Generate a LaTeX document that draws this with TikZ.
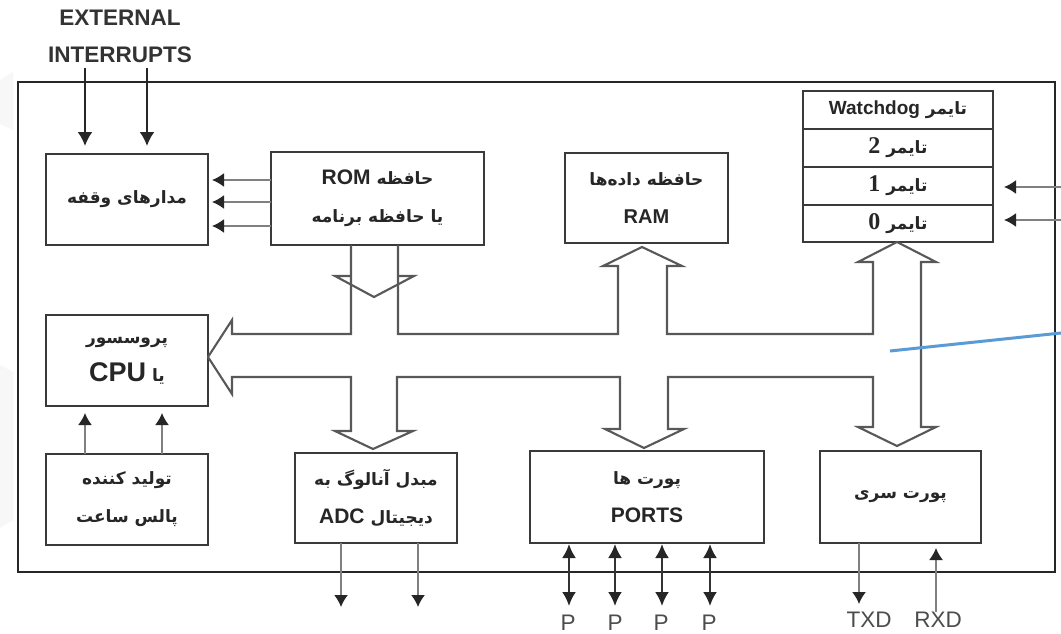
\documentclass[tikz,border=0pt]{standalone}
\usepackage{fontspec}
\setmainfont{Liberation Sans}
\newfontfamily\fa[Script=Arabic]{DejaVu Sans}
\newfontfamily\numf{Liberation Serif}
\TeXXeTstate=1
\usetikzlibrary{arrows.meta}
\newcommand{\FA}[1]{{\fa\bfseries\beginR #1\endR}}
\newcommand{\LAT}[2]{{\normalfont\bfseries\fontsize{#1}{#1}\selectfont #2}}
\newcommand{\FAL}[3]{{\fa\bfseries\beginR #2 \beginL\LAT{#1}{#3}\endL\endR}}
\newcommand{\FAN}[2]{{\fa\bfseries\beginR #1 \beginL{\numf\bfseries\fontsize{24}{24}\selectfont #2}\endL\endR}}
\definecolor{ink}{HTML}{3A3A3A}
\definecolor{bluemark}{HTML}{5B9BD5}
\tikzset{
  x=1pt,y=-1pt,
  box/.style={draw=ink,line width=2.1pt,inner sep=0pt,outer sep=0pt,align=center,font=\fontsize{17}{38}\selectfont\bfseries,text=black!85},
  cell/.style={box,minimum width=190pt},
  frame/.style={draw=black!85,line width=2.3pt,inner sep=0pt,outer sep=0pt},
  caption/.style={inner sep=0pt,font=\fontsize{22.5}{22.5}\selectfont,text=black!70},
  heading/.style={inner sep=0pt,font=\fontsize{22.5}{22.5}\selectfont\bfseries,text=black!80},
  bus/.style={draw=ink!85,line width=2.1pt,line join=miter,fill=none},
  sig/.style={draw=black!50,line width=1.6pt,-{Latex[length=12pt,width=14pt,black!85]}},
  strong/.style={draw=black!85,line width=2.2pt,-{Latex[length=14pt,width=15pt,black!85]}},
  both/.style={draw=black!80,line width=2.2pt,{Latex[length=14pt,width=14pt,black!85]}-{Latex[length=14pt,width=14pt,black!85]}},
}
\begin{document}
\begin{tikzpicture}
\useasboundingbox[fill=white] (0,0) rectangle (1061,634);
\fill[black!3] (0,80) -- (13,72) -- (13,130) -- (0,124) -- cycle;
\fill[black!3] (0,365) -- (13,372) -- (13,520) -- (0,528) -- cycle;
\node[frame,minimum width=1037pt,minimum height=490pt] (chip) at (536.5,327) {};

\node[box,minimum width=162pt,minimum height=91pt] (int) at (127,199.5) {\FA{مدارهای وقفه}};
\node[box,minimum width=213pt,minimum height=93pt] (rom) at (377.5,198.5) {\FAL{21}{حافظه}{ROM}\\ \FA{یا حافظه برنامه}};
\node[box,minimum width=163pt,minimum height=90pt] (ram) at (646.5,198) {\FA{حافظه داده‌ها}\\ \LAT{20}{RAM}};
\node[cell,minimum height=38pt] (wd) at (898,110) {\FAL{19}{تایمر}{Watchdog}};
\node[cell,minimum height=38pt] (t2) at (898,148) {\FAN{تایمر}{2}};
\node[cell,minimum height=38pt] (t1) at (898,186) {\FAN{تایمر}{1}};
\node[cell,minimum height=37pt] (t0) at (898,223.5) {\FAN{تایمر}{0}};
\node[box,minimum width=162pt,minimum height=91pt] (cpu) at (127,360.5) {\FA{پروسسور}\\ \FAL{27}{یا}{CPU}};
\node[box,minimum width=162pt,minimum height=91pt] (clk) at (127,499.5) {\FA{تولید کننده}\\ \FA{پالس ساعت}};
\node[box,minimum width=162pt,minimum height=90pt] (adc) at (376,498) {\FA{مبدل آنالوگ به}\\ \FAL{21}{دیجیتال}{ADC}};
\node[box,minimum width=234pt,minimum height=92pt] (ports) at (647,497) {\FA{پورت ها}\\ \LAT{21}{PORTS}};
\node[box,minimum width=161pt,minimum height=92pt] (serial) at (900.5,497) {\FA{پورت سری}};

\node[heading] (ext) at (120,18) {EXTERNAL};
\node[heading] (intr) at (120,55) {INTERRUPTS};
\node[caption] (p1) at (568,623) {P};
\node[caption] (p2) at (615,623) {P};
\node[caption] (p3) at (661,623) {P};
\node[caption] (p4) at (709,623) {P};
\node[caption] (txd) at (869,620) {TXD};
\node[caption] (rxd) at (938,620) {RXD};
\coordinate (adc1) at (341,607);
\coordinate (adc2) at (418,607);
\coordinate (tin1) at (1061,187);
\coordinate (tin2) at (1061,220);

% external interrupts
\draw[strong] (85,68) -- (85,146);
\draw[strong] (147,68) -- (147,146);
% ROM to interrupts
\foreach \yy in {180,202,226} \draw[sig,shorten >=4pt] (rom.west |- 0,\yy) -- (int.east |- 0,\yy);
% timer inputs
\draw[sig,shorten >=11pt] (tin1) -- (t1.east |- tin1);
\draw[sig,shorten >=11pt] (tin2) -- (t0.east |- tin2);
% clock to CPU
\draw[sig,shorten >=7pt] (clk.north -| 85,0) -- (cpu.south -| 85,0);
\draw[sig,shorten >=7pt] (clk.north -| 162,0) -- (cpu.south -| 162,0);
% ADC outputs
\draw[sig] (adc.south -| adc1) -- (adc1);
\draw[sig] (adc.south -| adc2) -- (adc2);
% port pins
\draw[both,shorten <=1pt] (ports.south -| 569,0) -- (569,606);
\draw[both,shorten <=1pt] (ports.south -| 615,0) -- (615,606);
\draw[both,shorten <=1pt] (ports.south -| 662,0) -- (662,606);
\draw[both,shorten <=1pt] (ports.south -| 710,0) -- (710,606);
% serial
\draw[sig] (serial.south -| 859,0) -- (859,604);
\draw[sig,shorten >=5pt] (rxd.north -| 936,0) -- (serial.south -| 936,0);

% bus outline
\draw[bus] (rom.south -| 351,0) -- (351,334) -- (232,334) -- (232,320) -- (cpu.east |- 0,357) -- (232,394) -- (232,377) -- (351,377) -- (351,431) -- (335,431) -- (373,449) -- (413,431) -- (397,431) -- (397,377) -- (620,377) -- (620,429) -- (605,429) -- (644,448) -- (684,429) -- (668,429) -- (668,377) -- (873,377) -- (873,427) -- (858,427) -- (897,446) -- (936,427) -- (921,427) -- (921,262) -- (936,262) -- (t0.south -| 897,0) -- (858,262) -- (873,262) -- (873,334) -- (667,334) -- (667,266) -- (682,266) -- (642,247) -- (603,266) -- (618,266) -- (618,334) -- (398,334) -- (rom.south -| 398,0);
% ROM arrowhead
\draw[bus] (351,276) -- (335,276) -- (374,297) -- (414,276) -- (398,276);

% annotation mark
\draw[bluemark,line width=3pt] (890,351) -- (1061,333);

\end{tikzpicture}
\end{document}
